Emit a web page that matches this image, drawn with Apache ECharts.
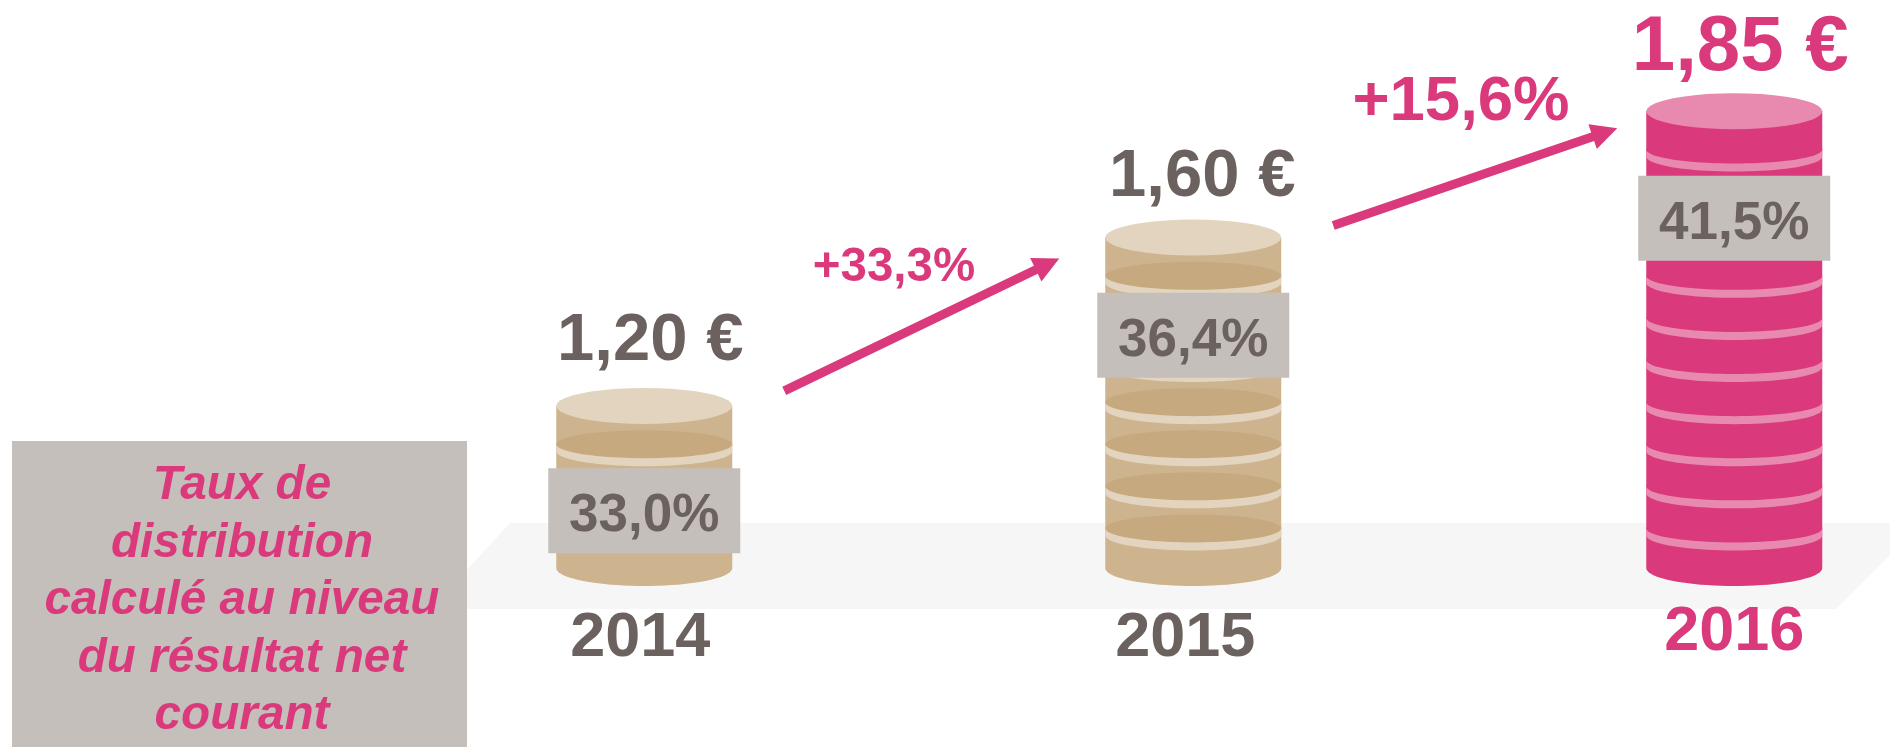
<!DOCTYPE html>
<html>
<head>
<meta charset="utf-8">
<title>Dividende</title>
<style>
  html, body { margin: 0; padding: 0; background: #fff; }
  #chart { width: 1890px; height: 747px; }
</style>
<script src="https://cdn.jsdelivr.net/npm/echarts@6/dist/echarts.min.js"></script>
</head>
<body>
<div id="chart"></div>
<script>
// chart data
var years = ['2014', '2015', '2016'];
var dividends = [1.20, 1.60, 1.85];
var payoutRates = [33.0, 36.4, 41.5];
var growthRates = [33.3, 15.6];
var coinCounts = [4, 8, 11];

var noteLines = ['Taux de', 'distribution', 'calculé au niveau', 'du résultat net', 'courant'];

var PINK = '#da3a7b';
var GREY_TEXT = '#6b615e';
var LABEL_BG = '#c5bfbb';
var FONT = '"Liberation Sans", Arial, sans-serif';

// coin colours: side, top, ring shadow, ring
var palettes = [
  { side: '#ceb48e', top: '#e2d4bf', dark: '#c6a97f', ring: '#e2d4bf' },
  { side: '#ceb48e', top: '#e2d4bf', dark: '#c6a97f', ring: '#e2d4bf' },
  { side: '#da3a7b', top: '#e88ab0', dark: '#da3a7b', ring: '#e88ab0' }
];

// hand placed offsets
var stackNudge = [0, 4.5, 1];
var dividendStyle = [
  { dx: 6, dy: -64, size: 67, color: GREY_TEXT },
  { dx: 9, dy: -60, size: 67, color: GREY_TEXT },
  { dx: 6, dy: -63, size: 78, color: PINK }
];
var labelLevels = [1.36, 5.53, 8.31];
var yearStyle = [
  { dx: -4, y: 639, color: GREY_TEXT },
  { dx: -8, y: 639, color: GREY_TEXT },
  { dx: 0, y: 633, color: PINK }
];
var arrowLayout = [
  { x0: 140, y0: -15, x1: -134, y1: 21, labelX: 894, labelY: 268, size: 47.5 },
  { x0: 140, y0: -12, x1: -117, y1: 17, labelX: 1461, labelY: 102, size: 63.5 }
];

var COIN_RX = 88;
var TOP_RY = 18;

function comma (v, digits) {
  return v.toFixed(digits).replace('.', ',');
}

// points along an ellipse between two angles
function arc (cx, cy, rx, ry, from, to) {
  var pts = [];
  for (var i = 0; i <= 40; i++) {
    var a = from + (to - from) * i / 40;
    pts.push([cx + rx * Math.cos(a), cy + ry * Math.sin(a)]);
  }
  return pts;
}

function renderStack (params, api) {
  var i = api.value(0);
  var count = api.value(1);
  var pal = palettes[i];
  var cx = api.coord([i, 0])[0] + stackNudge[i];
  var baseY = api.coord([i, 0])[1];
  var topY = api.coord([i, count - 0.15])[1];
  var kids = [];

  // side of the stack
  kids.push({
    type: 'polygon',
    shape: { points: arc(cx, baseY, COIN_RX, TOP_RY, 0, Math.PI).concat([[cx - COIN_RX, topY], [cx + COIN_RX, topY]]) },
    style: { fill: pal.side }
  });
  // one ring per coin edge
  for (var k = 1; k < count; k++) {
    var y = api.coord([i, k - 0.06])[1];
    kids.push({
      type: 'polygon',
      shape: { points: arc(cx, y, COIN_RX, 14, 0, Math.PI * 2) },
      style: { fill: pal.dark }
    });
    kids.push({
      type: 'polygon',
      shape: { points: arc(cx, y + 7, COIN_RX, 15, 0, Math.PI).concat(arc(cx, y, COIN_RX, 14, Math.PI, 0)) },
      style: { fill: pal.ring }
    });
  }
  // top face
  kids.push({
    type: 'polygon',
    shape: { points: arc(cx, topY, COIN_RX, TOP_RY, 0, Math.PI * 2) },
    style: { fill: pal.top }
  });

  // payout rate box
  var labelY = api.coord([i, labelLevels[i]])[1];
  kids.push({
    type: 'rect',
    shape: { x: cx - 96, y: labelY - 42.5, width: 192, height: 85 },
    style: { fill: LABEL_BG }
  });
  kids.push({
    type: 'text',
    style: {
      text: comma(payoutRates[i], 1) + '%', x: cx, y: labelY + 6,
      align: 'center', verticalAlign: 'middle',
      font: 'bold 53px ' + FONT, fill: GREY_TEXT
    }
  });

  // dividend above the stack
  var d = dividendStyle[i];
  kids.push({
    type: 'text',
    style: {
      text: comma(dividends[i], 2) + ' €', x: cx + d.dx, y: topY + d.dy,
      align: 'center', verticalAlign: 'middle',
      font: 'bold ' + d.size + 'px ' + FONT, fill: d.color
    }
  });

  // year under the stack
  var ys = yearStyle[i];
  kids.push({
    type: 'text',
    style: {
      text: years[i], x: cx + ys.dx, y: ys.y,
      align: 'center', verticalAlign: 'middle',
      font: 'bold 63px ' + FONT, fill: ys.color
    }
  });

  return { type: 'group', children: kids };
}

function renderArrow (params, api) {
  var i = api.value(0);
  var l = arrowLayout[i];
  var from = api.coord([i, coinCounts[i] - 0.15]);
  var to = api.coord([i + 1, coinCounts[i + 1] - 0.15]);
  var x0 = from[0] + stackNudge[i] + l.x0;
  var y0 = from[1] + l.y0;
  var x1 = to[0] + stackNudge[i + 1] + l.x1;
  var y1 = to[1] + l.y1;

  var len = Math.sqrt((x1 - x0) * (x1 - x0) + (y1 - y0) * (y1 - y0));
  var ux = (x1 - x0) / len;
  var uy = (y1 - y0) / len;
  var nx = -uy;
  var ny = ux;
  var bx = x1 - ux * 26;
  var by = y1 - uy * 26;

  return {
    type: 'group',
    children: [{
      type: 'polygon',
      shape: {
        points: [
          [x0 + nx * 4.5, y0 + ny * 4.5], [bx + nx * 4.5, by + ny * 4.5],
          [bx + nx * 13, by + ny * 13], [x1, y1], [bx - nx * 13, by - ny * 13],
          [bx - nx * 4.5, by - ny * 4.5], [x0 - nx * 4.5, y0 - ny * 4.5]
        ]
      },
      style: { fill: PINK }
    }, {
      type: 'text',
      style: {
        text: '+' + comma(growthRates[i], 1) + '%', x: l.labelX, y: l.labelY,
        align: 'center', verticalAlign: 'middle',
        font: 'bold ' + l.size + 'px ' + FONT, fill: PINK
      }
    }]
  };
}

var myChart = echarts.init(document.getElementById('chart'));

var option = {
  animation: false,
  backgroundColor: '#fff',
  // the third band runs past the canvas, so no fitting to the outer bounds
  grid: { left: 372, width: 1633.5, top: 20.7, height: 547.3, outerBoundsMode: 'none' },
  xAxis: { type: 'category', data: years, show: false },
  yAxis: { type: 'value', min: 0, max: 13, show: false },
  // floor and note box sit behind the coins
  graphic: [{
    type: 'polygon',
    z: 0,
    shape: { points: [[510, 523], [1890, 523], [1890, 555], [1836, 609], [431, 609]] },
    style: { fill: '#f6f6f6' }
  }, {
    type: 'rect',
    z: 1,
    shape: { x: 12, y: 441, width: 455, height: 306 },
    style: { fill: LABEL_BG }
  }, {
    type: 'text',
    z: 2,
    x: 242,
    y: 601,
    style: {
      text: noteLines.join('\n'),
      align: 'center', verticalAlign: 'middle', lineHeight: 57.5,
      font: 'italic bold 47.7px ' + FONT, fill: PINK
    }
  }],
  series: [{
    type: 'custom',
    renderItem: renderStack,
    clip: false,
    encode: { x: 0, y: 1 },
    data: coinCounts.map(function (c, i) { return [i, c]; })
  }, {
    type: 'custom',
    renderItem: renderArrow,
    clip: false,
    encode: { x: 0 },
    data: growthRates.map(function (g, i) { return [i, g]; })
  }]
};

myChart.setOption(option);
</script>
</body>
</html>
